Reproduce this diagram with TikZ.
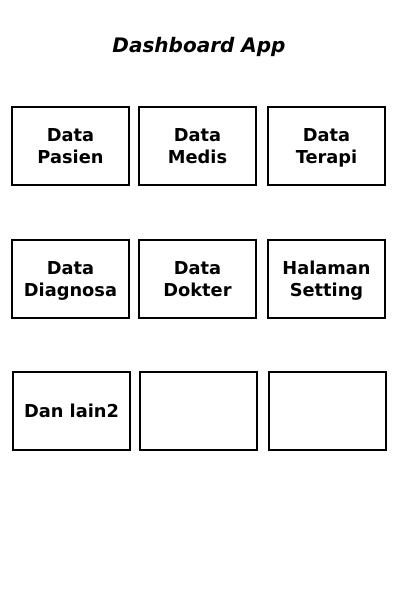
\documentclass[tikz,border=0pt]{standalone}
\usepackage{fontspec}
\setmainfont{DejaVu Sans}
\usepackage{tikz}

\tikzset{
    menu/.style={rectangle, draw, line width=2pt, minimum width=117pt, minimum height=78pt,
                 align=center, font=\fontsize{17.8}{22}\selectfont\bfseries, inner sep=0pt,
                 text depth=0pt}
}

\begin{document}
\begin{tikzpicture}[x=1pt, y=-1pt]
        \useasboundingbox (0,0) rectangle (400,600);

        \node[font=\fontsize{20}{24}\selectfont\bfseries\itshape] (judul) at (199,47) {Dashboard App};

        \node[menu] (pasien) at (70.5,146) {Data\\Pasien};
        \node[menu] (medis) at (197.5,146) {Data\\Medis};
        \node[menu] (terapi) at (326.5,146) {Data\\Terapi};

        \node[menu] (diagnosa) at (70.5,279) {Data\\Diagnosa};
        \node[menu] (dokter) at (197.5,279) {Data\\Dokter};
        \node[menu] (setting) at (326.5,279) {Halaman\\Setting};

        \node[menu] (lain) at (71.5,411) {Dan lain2};
        \node[menu] (kosong1) at (198.5,411) {};
        \node[menu] (kosong2) at (327.5,411) {};
    \end{tikzpicture}
\end{document}
